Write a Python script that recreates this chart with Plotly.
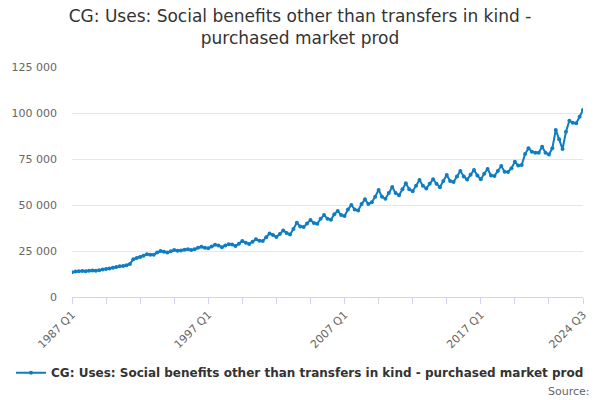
import plotly.graph_objects as go

years = list(range(1987, 2025))
quarters = [f"{y} Q{q}" for y in years for q in range(1, 5)][:151]

values = [
    13400, 13800, 14000, 14100,
    14000, 14200, 14400, 14300,
    14600, 14900, 15200, 15500,
    15900, 16300, 16700, 16900,
    17300, 18000, 20500, 21200,
    21800, 22400, 23300, 23000,
    23000, 24200, 25000, 24600,
    24200, 24800, 25500, 25200,
    25300, 25700, 26000, 25600,
    26000, 26800, 27300, 26800,
    26500, 27500, 28400, 28000,
    27000, 28000, 28700, 28500,
    27700, 29000, 30500, 29500,
    28800, 30000, 31400, 30600,
    30400, 32500, 34500, 33700,
    32600, 34200, 36200, 34800,
    34000, 37000, 40400, 38300,
    38000, 40000, 41800, 40200,
    39800, 42500, 44600, 42500,
    42000, 45000, 46800, 44500,
    44000, 47500, 50000, 47500,
    47000, 50500, 53100, 50500,
    51500, 54500, 58200, 54500,
    53400, 56500, 59800, 56500,
    55300, 58500, 61800, 58500,
    57500, 60500, 63600, 60500,
    59000, 61500, 64000, 61500,
    59700, 63000, 66300, 63000,
    62500, 65500, 68500, 65500,
    63800, 66500, 69000, 66000,
    64000, 67000, 69600, 66000,
    65800, 68500, 71200, 68100,
    68000, 70000, 73500, 71400,
    71700, 77700, 80800, 79000,
    78400, 78400, 81700, 78400,
    77500, 80800, 90800, 85700,
    80400, 89800, 95800, 94700,
    94400, 98000, 101600,
]

series_name = "CG: Uses: Social benefits other than transfers in kind - purchased market prod"
title_text = "CG: Uses: Social benefits other than transfers in kind -<br>purchased market prod"
labelled_ticks = ["1987 Q1", "1997 Q1", "2007 Q1", "2017 Q1", "2024 Q3"]
y_ticks = [0, 25000, 50000, 75000, 100000, 125000]

color = "#0f7dc2"
font_family = "DejaVu Sans, Verdana, sans-serif"

tick_vals = quarters[::10]
tick_text = [q if q in labelled_ticks else "" for q in tick_vals]

fig = go.Figure()
fig.add_trace(go.Scatter(
    x=quarters, y=values, mode="lines+markers", name=series_name,
    line=dict(color=color, width=2),
    marker=dict(color=color, size=4),
))

fig.update_layout(
    width=600, height=400,
    margin=dict(l=72, r=17, t=67, b=103, autoexpand=False),
    paper_bgcolor="white", plot_bgcolor="white",
    separators=". ",
    font=dict(family=font_family, color="#666666", size=10),
    title=dict(text=title_text, x=0.5, xref="container", xanchor="center",
               y=0.945, yref="container", yanchor="top",
               font=dict(family=font_family, size=17, color="#333333")),
    showlegend=True,
    legend=dict(orientation="h", xref="container", yref="container",
                x=0.5, xanchor="center", y=0.068, yanchor="middle",
                font=dict(family=font_family, size=12, color="#333333", weight="bold"),
                itemwidth=30),
    annotations=[dict(text="Source:", xref="paper", yref="paper",
                      x=1.018, y=-0.41, xanchor="right", yanchor="middle",
                      showarrow=False,
                      font=dict(family=font_family, size=11, color="#666666"))],
)

fig.update_xaxes(
    type="category", range=[0, 150], automargin=False,
    tickmode="array", tickvals=tick_vals, ticktext=tick_text,
    tickangle=-45, ticks="outside", ticklen=6, tickcolor="#ccd6eb",
    showline=True, linecolor="#ccd6eb", linewidth=1,
    showgrid=False, zeroline=False,
    tickfont=dict(size=11, color="#666666"),
)
fig.update_yaxes(
    range=[0, 125000], tickvals=y_ticks, tickformat=",d", automargin=False,
    showgrid=True, gridcolor="#e6e6e6", gridwidth=1,
    zeroline=False, showline=False, ticks="", ticklabelstandoff=14,
    tickfont=dict(size=11, color="#666666"),
)

fig.write_html("out.html", config={"displayModeBar": False},
               post_script="document.body.style.margin='0px';")
